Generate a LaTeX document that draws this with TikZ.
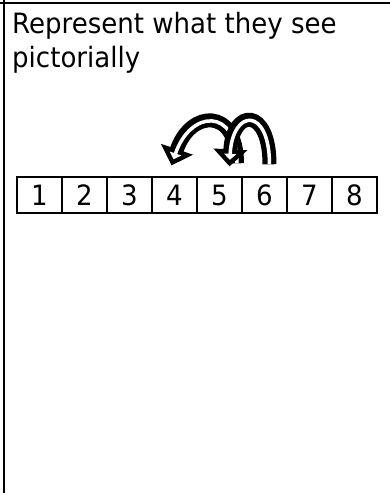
\documentclass[tikz,border=0pt]{standalone}
\usepackage{fontspec}
\setmainfont{DejaVu Sans}[FakeStretch=0.93]
\usetikzlibrary{arrows.meta,calc}
\tikzset{
  cell/.style={draw,line width=1.3pt,minimum width=45pt,minimum height=36pt,inner sep=0pt,
    text height=20pt,text depth=0pt,font=\fontsize{28}{32}\selectfont},
  jumpout/.style={line width=14pt,-{Triangle[length=17pt,width=33pt]}},
  jumpin/.style={white,line width=3.5pt,shorten >=6.5pt,-{Triangle[length=6pt,width=12pt]}},
  rule/.style={line width=2pt}
}
\begin{document}
\begin{tikzpicture}[x=1pt,y=-1pt]
\useasboundingbox (0,0) rectangle (390,497);
% frame
\coordinate (tl) at (0,3); \coordinate (tr) at (390,3);
\coordinate (lt) at (4,0); \coordinate (lb) at (4,493);
\draw[rule] (tl) -- (tr);
\draw[rule] (lt) -- (lb);
\node[anchor=north west,inner sep=0pt,align=left,font=\fontsize{28}{34}\selectfont] (prompt) at (12,12) {Represent what they see\\pictorially};
% number track
\foreach \i in {1,...,8}
  \node[cell] (c\i) at (17+45*\i-22.5,195) {\i};
% jumps back
\coordinate (tailA) at ($(c5.north)+(17.5,-13)$);
\coordinate (headA) at ($(c4.north)+(-3,-11)$);
\coordinate (tailB) at ($(c6.north)+(5,-12)$);
\coordinate (headB) at ($(c5.north)+(10,-10)$);
\draw[jumpout] (tailA) .. controls ($(tailA)+(0,-56)$) and ($(headA)+(19,-56)$) .. (headA);
\draw[jumpin] (tailA) .. controls ($(tailA)+(0,-56)$) and ($(headA)+(19,-56)$) .. (headA);
\draw[jumpout] (tailB) .. controls ($(tailB)+(0,-58)$) and ($(headB)+(3,-58)$) .. (headB);
\draw[jumpin] (tailB) .. controls ($(tailB)+(0,-58)$) and ($(headB)+(3,-58)$) .. (headB);
\end{tikzpicture}
\end{document}
